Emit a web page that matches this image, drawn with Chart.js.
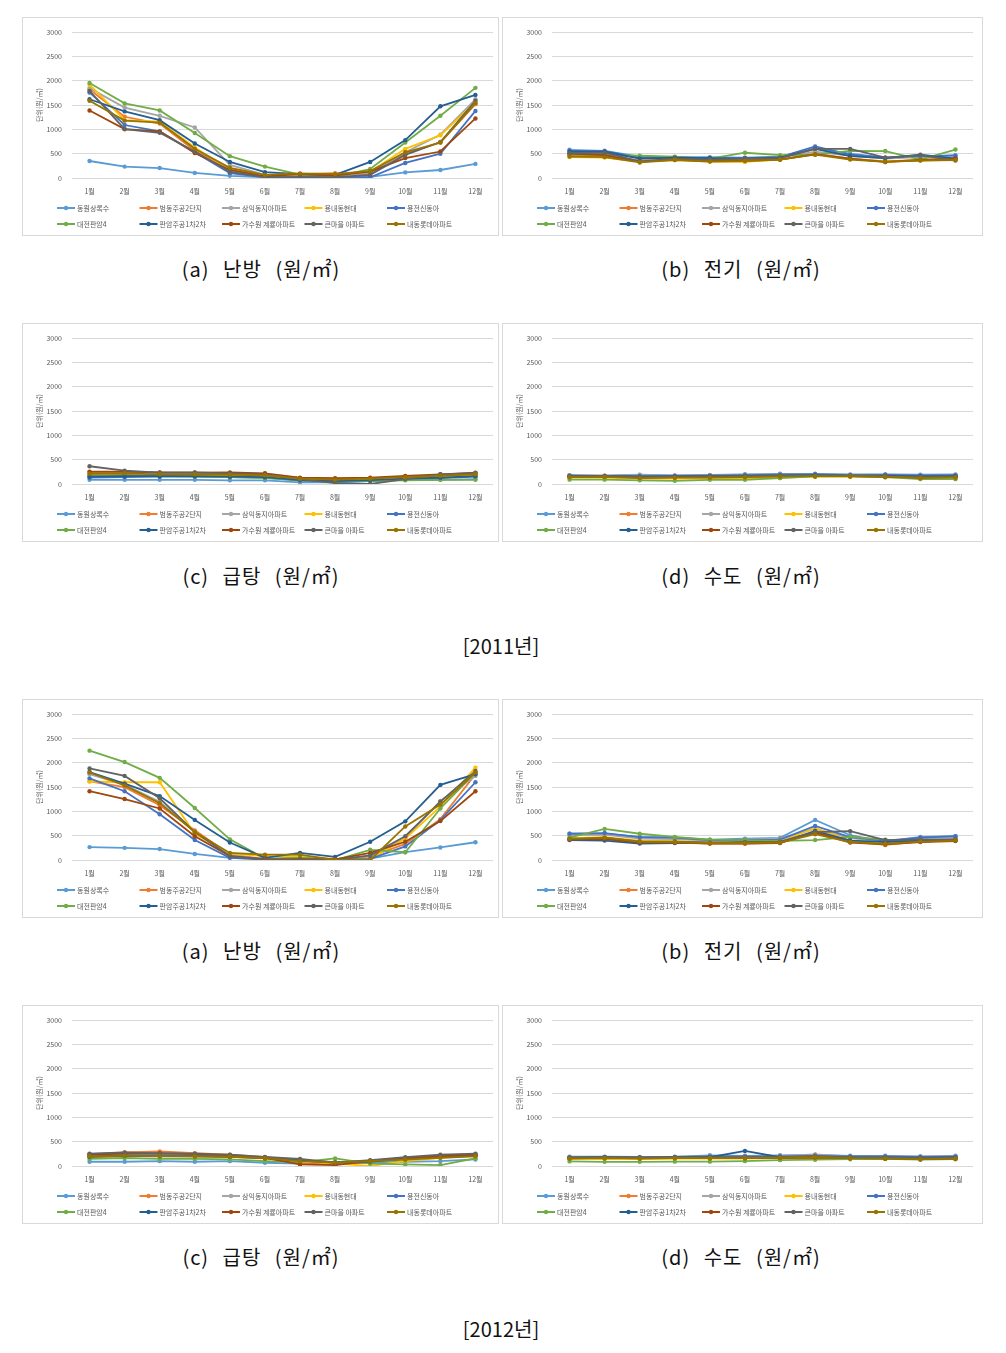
<!DOCTYPE html>
<html>
<head>
<meta charset="utf-8">
<script src="https://cdn.jsdelivr.net/npm/chart.js@4.4.0/dist/chart.umd.min.js"></script>
<style>
    body { margin: 0; background: #fff; width: 1006px; height: 1353px; position: relative; font-family: "Noto Sans CJK KR", sans-serif; }
    .panel { position: absolute; border: 1px solid #d9d9d9; background: #fff; }
    .panel canvas { display: block; }
    .cap { position: absolute; width: 300px; text-align: center; font-size: 20px; color: #111; white-space: nowrap; line-height: 1; letter-spacing: 1px; word-spacing: 8px; }
    .year { position: absolute; width: 300px; text-align: center; font-size: 20px; color: #111; white-space: nowrap; line-height: 1; }
</style>
</head>
<body>

<script>
/* =================================================================
    data
================================================================= */

var months = ["1월", "2월", "3월", "4월", "5월", "6월", "7월", "8월", "9월", "10월", "11월", "12월"];

var names = [
    "동원상록수",
    "범동주공2단지",
    "삼익동지아파트",
    "용내동현대",
    "용전신동아",
    "대전판암4",
    "판암주공1차2차",
    "가수원 계룡아파트",
    "큰마을 아파트",
    "내동롯데아파트"
];

var yTicks = [0, 500, 1000, 1500, 2000, 2500, 3000];

// 2011
var heat2011 = [
    [350, 235, 205, 105, 45, 15, 10, 10, 25, 115, 165, 290],
    [1820, 1260, 1120, 560, 200, 45, 80, 100, 80, 500, 730, 1520],
    [1850, 1450, 1280, 1040, 270, 65, 50, 40, 100, 530, 890, 1620],
    [1920, 1190, 1160, 630, 165, 35, 80, 65, 130, 600, 880, 1560],
    [1760, 1090, 960, 530, 100, 15, 15, 15, 15, 310, 500, 1380],
    [1955, 1535, 1390, 925, 450, 235, 70, 30, 185, 730, 1280, 1855],
    [1620, 1370, 1190, 710, 330, 120, 80, 65, 330, 780, 1475, 1710],
    [1390, 1005, 960, 515, 165, 35, 80, 55, 130, 410, 545, 1225],
    [1790, 1005, 930, 545, 130, 15, 15, 15, 65, 475, 740, 1590],
    [1590, 1180, 1140, 600, 210, 65, 95, 80, 145, 530, 730, 1540]
];

var elec2011 = [
    [580, 560, 440, 430, 430, 420, 440, 610, 500, 420, 440, 470],
    [470, 450, 360, 380, 350, 350, 380, 500, 400, 340, 370, 390],
    [520, 500, 420, 410, 400, 400, 420, 540, 460, 400, 430, 420],
    [430, 420, 340, 370, 340, 330, 380, 490, 390, 340, 360, 380],
    [560, 550, 420, 420, 410, 410, 430, 650, 480, 420, 450, 460],
    [480, 470, 460, 440, 400, 520, 470, 480, 560, 555, 380, 585],
    [540, 540, 400, 420, 410, 400, 420, 600, 450, 410, 480, 400],
    [500, 470, 330, 380, 350, 360, 380, 490, 400, 330, 370, 400],
    [510, 520, 340, 400, 380, 400, 410, 600, 600, 420, 470, 360],
    [440, 430, 320, 370, 340, 350, 380, 480, 380, 330, 360, 370]
];

var hot2011 = [
    [85, 85, 85, 85, 75, 75, 35, 35, 65, 85, 85, 100],
    [230, 240, 230, 230, 220, 210, 120, 110, 120, 150, 180, 210],
    [200, 210, 210, 210, 200, 190, 110, 90, 110, 140, 170, 200],
    [180, 190, 190, 190, 180, 170, 100, 80, 100, 130, 160, 180],
    [130, 140, 150, 150, 140, 130, 70, 50, 60, 100, 120, 150],
    [165, 185, 165, 150, 140, 120, 75, 55, 65, 75, 85, 85],
    [150, 160, 160, 160, 150, 140, 80, 60, 80, 110, 130, 160],
    [255, 255, 240, 235, 240, 220, 130, 120, 130, 165, 200, 235],
    [365, 275, 235, 240, 220, 190, 100, 20, 0, 100, 200, 225],
    [210, 220, 200, 200, 190, 180, 110, 90, 110, 140, 170, 200]
];

var water2011 = [
    [180, 170, 190, 175, 185, 200, 210, 210, 195, 200, 190, 195],
    [160, 160, 150, 160, 160, 165, 170, 170, 170, 160, 150, 160],
    [170, 170, 185, 170, 180, 190, 200, 200, 185, 190, 180, 185],
    [130, 130, 110, 110, 110, 110, 130, 150, 150, 140, 120, 130],
    [170, 165, 160, 165, 170, 180, 190, 200, 180, 185, 175, 180],
    [90, 90, 75, 65, 85, 85, 120, 155, 155, 140, 100, 100],
    [160, 160, 150, 155, 160, 165, 170, 175, 170, 165, 155, 160],
    [150, 155, 130, 140, 140, 145, 160, 160, 160, 150, 130, 140],
    [160, 165, 140, 150, 155, 160, 165, 165, 165, 155, 140, 150],
    [140, 145, 120, 130, 130, 140, 155, 160, 160, 150, 125, 135]
];

// 2012
var heat2012 = [
    [265, 250, 225, 125, 45, 15, 15, 15, 30, 160, 258, 365],
    [1620, 1500, 1125, 610, 110, 0, 30, 20, 70, 330, 840, 1765],
    [1765, 1545, 1200, 575, 110, 25, 40, 20, 80, 440, 1215, 1730],
    [1615, 1600, 1600, 540, 130, 80, 80, 25, 25, 440, 1100, 1900],
    [1680, 1415, 940, 410, 45, 15, 40, 20, 25, 280, 820, 1600],
    [2250, 2015, 1690, 1070, 425, 30, 45, 0, 210, 160, 1060, 1800],
    [1810, 1570, 1315, 825, 360, 45, 145, 65, 375, 795, 1545, 1765],
    [1415, 1255, 1060, 490, 80, 25, 15, 15, 145, 375, 800, 1415],
    [1885, 1730, 1270, 575, 80, 0, 0, 0, 95, 490, 1200, 1830],
    [1800, 1535, 1170, 575, 145, 110, 110, 0, 0, 690, 1140, 1800]
];

var elec2012 = [
    [540, 540, 475, 460, 420, 440, 455, 825, 510, 375, 475, 490],
    [430, 440, 360, 370, 340, 340, 360, 560, 380, 310, 380, 410],
    [510, 520, 440, 430, 400, 420, 440, 640, 450, 380, 450, 470],
    [450, 470, 400, 390, 360, 360, 380, 660, 400, 330, 400, 420],
    [540, 555, 470, 460, 410, 410, 420, 700, 470, 400, 460, 490],
    [460, 640, 540, 475, 420, 410, 395, 410, 475, 420, 375, 410],
    [410, 400, 340, 350, 350, 350, 360, 600, 400, 370, 400, 400],
    [420, 430, 360, 360, 340, 340, 350, 570, 360, 320, 370, 390],
    [420, 460, 380, 380, 360, 370, 380, 575, 595, 410, 420, 430],
    [440, 460, 380, 370, 350, 350, 360, 530, 370, 330, 380, 400]
];

var hot2012 = [
    [87, 87, 100, 87, 100, 67, 47, 47, 67, 87, 100, 135],
    [245, 280, 300, 265, 235, 180, 47, 33, 100, 155, 200, 235],
    [220, 240, 250, 240, 220, 180, 120, 80, 110, 160, 210, 240],
    [180, 200, 210, 200, 190, 150, 100, 50, 0, 100, 170, 210],
    [200, 220, 220, 210, 200, 170, 120, 80, 100, 150, 200, 220],
    [145, 165, 145, 145, 135, 100, 80, 155, 47, 33, 20, 155],
    [190, 210, 200, 200, 190, 160, 110, 70, 90, 140, 190, 210],
    [235, 255, 265, 245, 220, 165, 33, 20, 100, 155, 200, 235],
    [255, 280, 260, 255, 235, 185, 145, 67, 120, 180, 235, 255],
    [200, 210, 205, 200, 190, 160, 100, 70, 100, 130, 170, 200]
];

var water2012 = [
    [190, 190, 185, 190, 220, 210, 220, 230, 210, 210, 200, 210],
    [160, 170, 160, 170, 170, 165, 170, 180, 165, 160, 150, 160],
    [180, 185, 180, 185, 200, 200, 210, 240, 200, 200, 190, 200],
    [140, 150, 140, 150, 150, 150, 160, 170, 160, 150, 140, 150],
    [175, 180, 175, 180, 195, 195, 200, 210, 195, 195, 180, 190],
    [95, 85, 85, 90, 90, 100, 120, 130, 140, 145, 130, 140],
    [170, 180, 170, 180, 180, 310, 180, 190, 170, 170, 170, 175],
    [160, 165, 160, 165, 160, 160, 165, 175, 160, 155, 140, 150],
    [170, 180, 170, 175, 175, 175, 180, 200, 175, 170, 160, 170],
    [150, 160, 150, 160, 160, 160, 170, 185, 160, 155, 140, 150]
];

/* =================================================================
    styles
================================================================= */

var colors = ["#5B9BD5", "#ED7D31", "#A5A5A5", "#FFC000", "#4472C4", "#70AD47", "#255E91", "#9E480E", "#636363", "#997300"];
var FONT = "'Noto Sans CJK KR', sans-serif";
var TXT = "#595959";

var panels = [
    { x: 22,  y: 17,   w: 477, vals: heat2011,  cap: "(a) 난방 (원/㎡)", capY: 259 },
    { x: 502, y: 17,   w: 481, vals: elec2011,  cap: "(b) 전기 (원/㎡)", capY: 259 },
    { x: 22,  y: 323,  w: 477, vals: hot2011,   cap: "(c) 급탕 (원/㎡)", capY: 566 },
    { x: 502, y: 323,  w: 481, vals: water2011, cap: "(d) 수도 (원/㎡)", capY: 566 },
    { x: 22,  y: 699,  w: 477, vals: heat2012,  cap: "(a) 난방 (원/㎡)", capY: 941 },
    { x: 502, y: 699,  w: 481, vals: elec2012,  cap: "(b) 전기 (원/㎡)", capY: 941 },
    { x: 22,  y: 1005, w: 477, vals: hot2012,   cap: "(c) 급탕 (원/㎡)", capY: 1247 },
    { x: 502, y: 1005, w: 481, vals: water2012, cap: "(d) 수도 (원/㎡)", capY: 1247 }
];

var years = [{ text: "[2011년]", y: 636 }, { text: "[2012년]", y: 1319 }];

var PANEL_H = 219;

// legend laid out in a 5 x 2 grid like the source
var gridLegend = {
    id: "gridLegend",
    afterDraw: function (chart) {
        var ctx = chart.ctx;
        ctx.save();
        ctx.font = "7px " + FONT;
        ctx.textBaseline = "middle";
        ctx.textAlign = "left";
        chart.data.datasets.forEach(function (ds, i) {
            var lx = 34 + (i % 5) * 82.5;
            var ly = 190 + Math.floor(i / 5) * 16;
            ctx.strokeStyle = ds.borderColor;
            ctx.lineWidth = 2;
            ctx.beginPath();
            ctx.moveTo(lx, ly);
            ctx.lineTo(lx + 18, ly);
            ctx.stroke();
            ctx.fillStyle = ds.borderColor;
            ctx.beginPath();
            ctx.arc(lx + 9, ly, 2.2, 0, Math.PI * 2);
            ctx.fill();
            ctx.fillStyle = TXT;
            ctx.fillText(ds.label, lx + 20, ly + 0.5);
        });
        ctx.restore();
    }
};

/* =================================================================
    build
================================================================= */

panels.forEach(function (p) {
    var div = document.createElement("div");
    div.className = "panel";
    div.style.left = p.x + "px";
    div.style.top = p.y + "px";
    div.style.width = (p.w - 2) + "px";
    div.style.height = (PANEL_H - 2) + "px";
    var cv = document.createElement("canvas");
    cv.width = p.w - 2;
    cv.height = PANEL_H - 2;
    div.appendChild(cv);
    document.body.appendChild(div);

    var cap = document.createElement("div");
    cap.className = "cap";
    cap.textContent = p.cap;
    cap.style.left = (p.x < 400 ? 261 : 741) - 150 + "px";
    cap.style.top = p.capY + "px";
    document.body.appendChild(cap);

    var datasets = names.map(function (name, i) {
        return {
            label: name,
            data: p.vals[i],
            borderColor: colors[i],
            backgroundColor: colors[i],
            borderWidth: 1.8,
            pointRadius: 2.2,
            pointHoverRadius: 2.2,
            pointBorderWidth: 0,
            tension: 0,
            order: names.length - i
        };
    });

    new Chart(cv, {
        type: "line",
        data: { labels: months, datasets: datasets },
        options: {
            responsive: false,
            animation: false,
            events: [],
            layout: { padding: { top: 9, left: 0, right: (p.w - 2) - 470, bottom: 35 } },
            plugins: {
                legend: { display: false },
                tooltip: { enabled: false }
            },
            scales: {
                x: {
                    offset: true,
                    grid: { display: false, drawTicks: false },
                    border: { display: false },
                    ticks: { font: { size: 7, family: FONT }, color: TXT, maxRotation: 0, autoSkip: false, padding: 9 },
                    afterFit: function (s) { s.height = 22; }
                },
                y: {
                    min: yTicks[0],
                    max: yTicks[yTicks.length - 1],
                    afterBuildTicks: function (s) { s.ticks = yTicks.map(function (v) { return { value: v }; }); },
                    grid: { color: "#d9d9d9", lineWidth: 1, drawTicks: false },
                    border: { display: false },
                    ticks: {
                        font: { size: 7, family: FONT }, color: TXT, padding: 10,
                        callback: function (v) { return String(v); }
                    },
                    title: { display: true, text: "단위(원/㎡)", font: { size: 7, family: FONT }, color: TXT, padding: { top: 12, bottom: 0 } },
                    afterFit: function (s) { s.width = 49; }
                }
            }
        },
        plugins: [gridLegend]
    });
});

years.forEach(function (yr) {
    var d = document.createElement("div");
    d.className = "year";
    d.textContent = yr.text;
    d.style.left = (501 - 150) + "px";
    d.style.top = yr.y + "px";
    document.body.appendChild(d);
});
</script>
</body>
</html>
